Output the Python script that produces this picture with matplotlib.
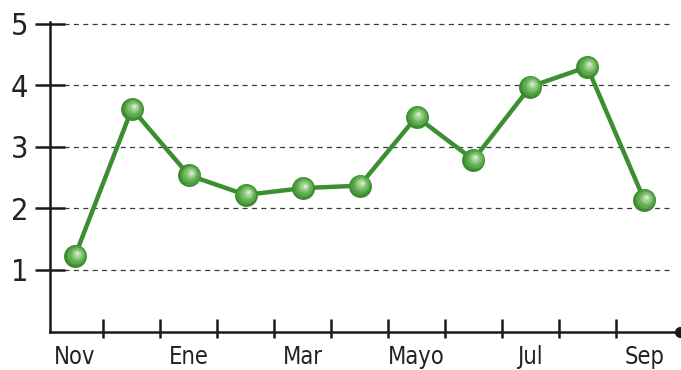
import matplotlib
matplotlib.use("Agg")
import matplotlib.pyplot as plt
from matplotlib import font_manager
import matplotlib.transforms as mtransforms

# monthly values, Nov through Sep
months = ["Nov", "Dic", "Ene", "Feb", "Mar", "Abr", "Mayo", "Jun", "Jul", "Ago", "Sep"]
values = [1.23, 3.62, 2.54, 2.22, 2.33, 2.37, 3.49, 2.79, 3.98, 4.30, 2.14]
shown_labels = ["Nov", "Ene", "Mar", "Mayo", "Jul", "Sep"]
y_ticks = [1, 2, 3, 4, 5]

plt.rcParams["font.family"] = ["DejaVu Sans"]
plt.rcParams["font.stretch"] = "condensed"

fig = plt.figure(figsize=(6.81, 3.70), dpi=100)
ax = fig.add_axes([50 / 681, 1 - 331.5 / 370, 630 / 681, 309.5 / 370])

x = list(range(len(months)))
ax.set_xlim(-0.44, 10.63)
ax.set_ylim(0, 5.03)

# dashed grid lines
for v in y_ticks:
    ax.plot([-0.2, 10.45], [v, v], color="#3a3a3a", lw=0.9, ls=(0, (4, 3.5)), zorder=1)

green = "#3c8f30"
ax.plot(x, values, color=green, lw=3.2, zorder=3, solid_capstyle="round")

# shaded spheres: stacked discs getting lighter toward the highlight
layers = [(16.5, "#3b8a2f", 0, 0),
          (14.5, "#4c9c3e", 0.5, 0.5),
          (12.0, "#62ad54", 0.8, 0.9),
          (9.0, "#7fc06f", 1.1, 1.3),
          (6.0, "#a3d494", 1.3, 1.6),
          (3.0, "#cfe9c5", 1.4, 1.8)]
for size, col, dx, dy in layers:
    tr = ax.transData + mtransforms.ScaledTranslation(dx / 72, dy / 72, fig.dpi_scale_trans)
    ax.plot(x, values, ls="none", marker="o", ms=size, color=col, mec="none",
            transform=tr, zorder=4, clip_on=False)

# axes and ticks
for s in ["top", "right"]:
    ax.spines[s].set_visible(False)
for s in ["left", "bottom"]:
    ax.spines[s].set_linewidth(1.8)
    ax.spines[s].set_color("#1a1a1a")

ax.set_yticks(y_ticks)
ax.set_yticklabels([str(v) for v in y_ticks], fontsize=22, color="#222222")
ax.tick_params(axis="y", direction="inout", length=21, width=1.8, pad=5, color="#1a1a1a")

# x ticks between months, sitting mostly above the axis line
between = [i + 0.5 for i in range(len(months) - 1)]
ax.vlines(between, -6 / 309.5, 13 / 309.5, transform=ax.get_xaxis_transform(),
          color="#1a1a1a", lw=1.8, clip_on=False, zorder=5)
ax.set_xticks([months.index(m) for m in shown_labels])
ax.set_xticklabels(shown_labels, fontsize=17, color="#222222")
ax.tick_params(axis="x", length=0, pad=10)

ax.plot([10.63], [0], marker="o", ms=7, color="#1a1a1a", clip_on=False, zorder=5)

fig.savefig("out.png", dpi=100)
